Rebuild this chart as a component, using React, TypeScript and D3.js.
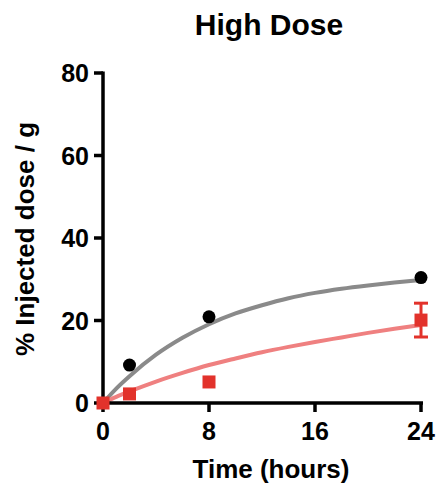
import React from 'react';
import * as d3 from 'd3';

// measured points
const timesBlack = [2, 8, 24];
const valuesBlack = [9.2, 20.9, 30.4];
const timesRed = [0, 2, 8, 24];
const valuesRed = [0, 2.2, 5.1, 20.1];
const errorsRed = [0, 0, 0, 4.1];

// fitted curves
const curveTimes = [0, 1, 2, 4, 6, 8, 10, 12, 14, 16, 18, 20, 22, 24];
const curveBlack = [0, 3.5, 6.5, 11.7, 15.8, 19.1, 21.7, 23.7, 25.4, 26.7, 27.7, 28.5, 29.2, 29.8];
const curveRed = [0, 1.5, 2.8, 5.2, 7.3, 9.2, 10.8, 12.3, 13.6, 14.8, 15.9, 17.0, 18.0, 18.9];

const xTicks = [0, 8, 16, 24];
const yTicks = [0, 20, 40, 60, 80];

const font = 'Liberation Sans, Arial, sans-serif';

export default function App() {
  const width = 436;
  const height = 491;
  const margin = { top: 73, right: 13, bottom: 88, left: 103 };

  const x = d3.scaleLinear().domain([0, 24]).range([margin.left, width - margin.right - 2]);
  const y = d3.scaleLinear().domain([0, 80]).range([height - margin.bottom, margin.top]);

  const line = d3
    .line<number>()
    .x((_, i) => x(curveTimes[i]))
    .curve(d3.curveMonotoneX);

  const blackPath = line.y((d) => y(d))(curveBlack) as string;
  const redPath = line.y((d) => y(d))(curveRed) as string;

  const y0 = y(0);
  const x0 = x(0);

  return (
    <svg
      width={width}
      height={height}
      style={{ position: 'absolute', left: 0, top: 0 }}
      fontFamily={font}
      fontWeight="bold"
    >
      <rect width={width} height={height} fill="#fff" />
      <text x={269} y={35} fontSize={30} textAnchor="middle">
        High Dose
      </text>

      {/* fitted curves */}
      <path d={blackPath} fill="none" stroke="#8a8a8a" strokeWidth={4} />
      <path d={redPath} fill="none" stroke="#ef8080" strokeWidth={4} />

      {/* axes */}
      <line x1={x0} x2={x0} y1={y(80) - 1.5} y2={y0 + 1.5} stroke="#000" strokeWidth={3.5} />
      <line x1={x0 - 1.5} x2={x(24) + 2} y1={y0} y2={y0} stroke="#000" strokeWidth={3.5} />
      {yTicks.map((t) => (
        <g key={'y' + t}>
          <line x1={x0 - 9} x2={x0} y1={y(t)} y2={y(t)} stroke="#000" strokeWidth={3.5} />
          <text x={x0 - 14} y={y(t)} dy="0.36em" fontSize={25} textAnchor="end">
            {t}
          </text>
        </g>
      ))}
      {xTicks.map((t) => (
        <g key={'x' + t}>
          <line x1={x(t)} x2={x(t)} y1={y0} y2={y0 + 9} stroke="#000" strokeWidth={3.5} />
          <text x={x(t)} y={440} fontSize={25} textAnchor="middle">
            {t}
          </text>
        </g>
      ))}
      <text x={271} y={478} fontSize={26} textAnchor="middle">
        Time (hours)
      </text>
      <text
        transform={`translate(34,239) rotate(-90)`}
        fontSize={26}
        textAnchor="middle"
      >
        % Injected dose / g
      </text>

      {/* black circles */}
      {timesBlack.map((t, i) => (
        <circle key={'b' + i} cx={x(t)} cy={y(valuesBlack[i])} r={6.5} fill="#000" />
      ))}

      {/* red squares with error bars */}
      {timesRed.map((t, i) => {
        const cx = x(t);
        const cy = y(valuesRed[i]);
        const e = errorsRed[i];
        return (
          <g key={'r' + i}>
            {e > 0 && (
              <g stroke="#e2322b" strokeWidth={3}>
                <line x1={cx} x2={cx} y1={y(valuesRed[i] + e)} y2={y(valuesRed[i] - e)} />
                <line x1={cx - 7} x2={cx + 7} y1={y(valuesRed[i] + e)} y2={y(valuesRed[i] + e)} />
                <line x1={cx - 7} x2={cx + 7} y1={y(valuesRed[i] - e)} y2={y(valuesRed[i] - e)} />
              </g>
            )}
            <rect x={cx - 6.5} y={cy - 6.5} width={13} height={13} fill="#e2322b" />
          </g>
        );
      })}
    </svg>
  );
}
